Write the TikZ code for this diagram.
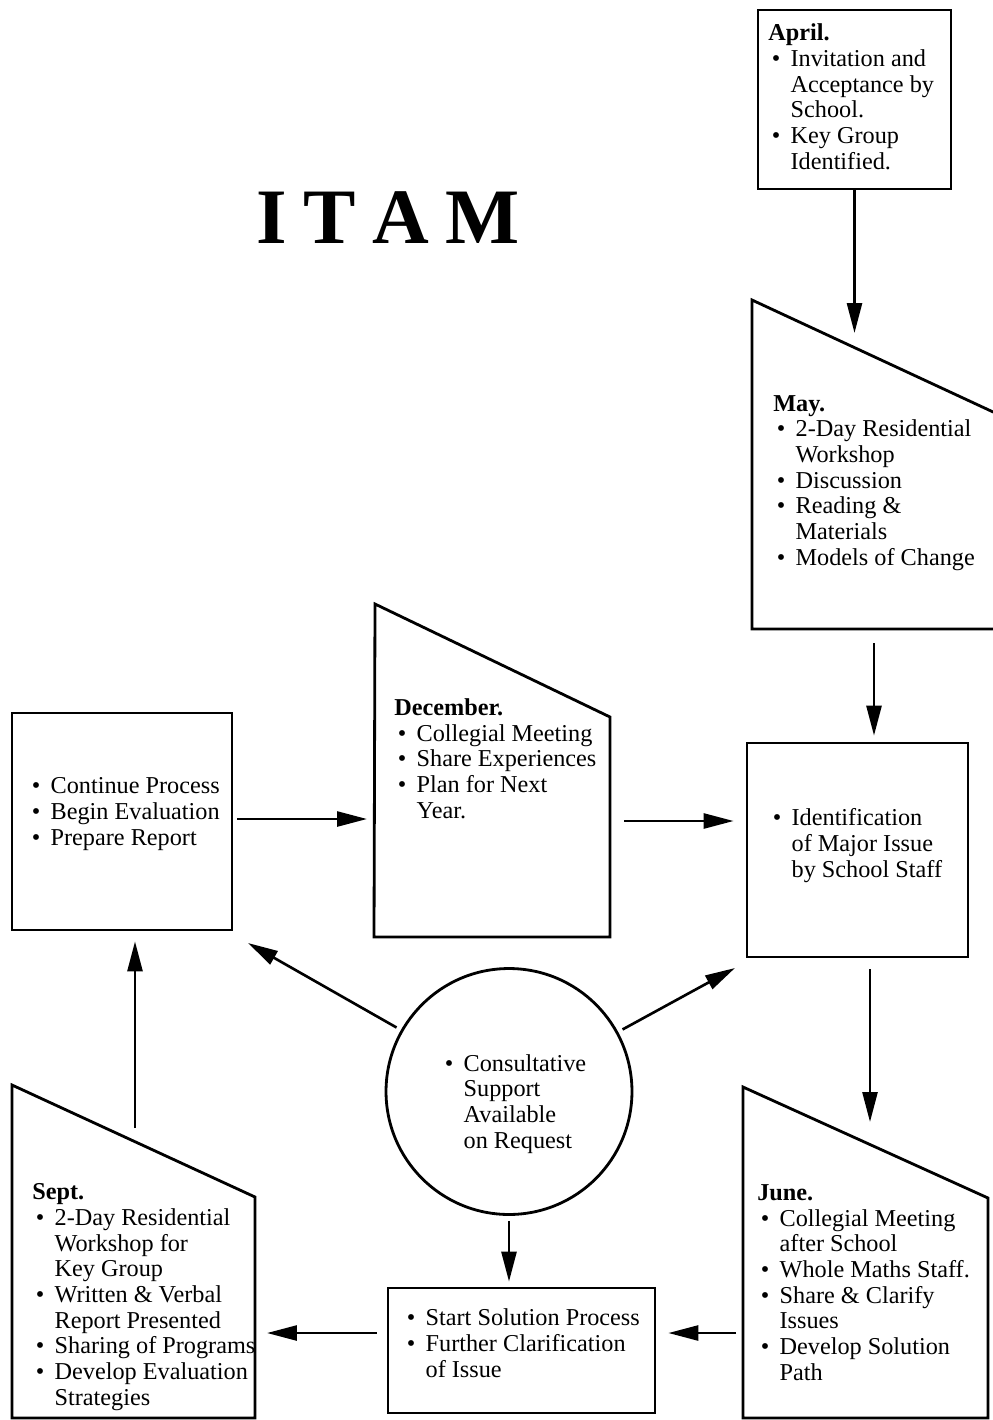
\documentclass[tikz,border=0pt]{standalone}
\usepackage{fontspec}
\setmainfont{Liberation Serif}
\usepackage{tikz}
\usetikzlibrary{arrows.meta}

\newcommand{\bul}{\hspace*{2pt}\makebox[10.7pt][l]{\textbullet}}
\newcommand{\ind}{\hspace*{12.7pt}}

\begin{document}
\begin{tikzpicture}[
    x=0.02cm, y=-0.02cm,
    box/.style={rectangle, draw, line width=1.6pt, inner sep=0pt},
    frame/.style={draw, line width=1.6pt, line join=miter},
    txt/.style={anchor=base west, align=left, inner sep=0pt, font=\fontsize{13.8pt}{14.6pt}\selectfont},
    arrow/.style={-{Triangle[length=0.6cm, width=0.3cm]}, line width=1.5pt}
]
\useasboundingbox (0,0) rectangle (993,1420);

% Title
\node[anchor=base, inner sep=0pt, font=\fontsize{44.7pt}{44.7pt}\selectfont\bfseries] (title) at (388,243) {I\hspace{9.5pt}T\hspace{9.5pt}A\hspace{9.5pt}M};

% Boxes
\node[box, minimum width=3.86cm, minimum height=3.58cm] (april) at (854.5,99.5) {};
\node[box, minimum width=4.4cm, minimum height=4.34cm] (cont) at (122,821.5) {};
\node[box, minimum width=4.42cm, minimum height=4.28cm] (ident) at (857.5,850) {};
\node[box, minimum width=5.34cm, minimum height=2.5cm] (solve) at (521.5,1350.5) {};
\node[circle, draw, line width=1.6pt, inner sep=0pt, minimum size=4.92cm] (consult) at (509,1091.5) {};

% Slanted shapes
\draw[frame] (1005,417.5) -- (752,300) -- (752,629) -- (1005,629);
\draw[frame] (375,604) -- (610,717) -- (610,937) -- (374,937) -- cycle;
\draw[frame] (12,1085) -- (255,1197) -- (255,1418) -- (12,1418) -- cycle;
\draw[frame] (743,1087) -- (988,1198) -- (988,1418) -- (743,1418) -- cycle;

% Texts (placed by the baseline of their last line)
\node[txt] (apriltxt) at (768,169) {\textbf{April.}\\
  \bul Invitation and\\ \ind Acceptance by\\ \ind School.\\
  \bul Key Group\\ \ind Identified.};
\node[txt] (may) at (773,565) {\textbf{May.}\\
  \bul 2-Day Residential\\ \ind Workshop\\ \bul Discussion\\
  \bul Reading \&\\ \ind Materials\\ \bul Models of Change};
\node[txt] (dec) at (394,818) {\textbf{December.}\\
  \bul Collegial Meeting\\ \bul Share Experiences\\
  \bul Plan for Next\\ \ind Year.};
\node[txt] (conttxt) at (28,845) {\bul Continue Process\\
  \bul Begin Evaluation\\ \bul Prepare Report};
\node[txt] (identtxt) at (769,877) {\bul Identification\\
  \ind of Major Issue\\ \ind by School Staff};
\node[txt] (consulttxt) at (441,1148) {\bul Consultative\\
  \ind Support\\ \ind Available\\ \ind on Request};
\node[txt] (solvetxt) at (403,1377) {\bul Start Solution Process\\
  \bul Further Clarification\\ \ind of Issue};
\node[txt] (sept) at (32,1405) {\textbf{Sept.}\\
  \bul 2-Day Residential\\ \ind Workshop for\\ \ind Key Group\\
  \bul Written \& Verbal\\ \ind Report Presented\\
  \bul Sharing of Programs\\ \bul Develop Evaluation\\ \ind Strategies};
\node[txt] (june) at (757,1380) {\textbf{June.}\\
  \bul Collegial Meeting\\ \ind after School\\
  \bul Whole Maths Staff.\\ \bul Share \& Clarify\\ \ind Issues\\
  \bul Develop Solution\\ \ind Path};

% Arrow ends on the slanted shapes
\coordinate (mayin) at (854.5,333);
\coordinate (mayout) at (874,643);
\coordinate (decin) at (367,819);
\coordinate (decout) at (624,821);
\coordinate (junein) at (870,1122);
\coordinate (juneout) at (736,1333);
\coordinate (septin) at (267,1333);
\coordinate (septout) at (135,1128);
\coordinate (contin) at (248,943);
\coordinate (identin) at (735,968);

% Arrows
\draw[arrow] (april.south) -- (mayin);
\draw[arrow, shorten >=0.12cm] (mayout) -- (ident.north -| mayout);
\draw[arrow, shorten <=0.08cm] (cont.east |- decin) -- (decin);
\draw[arrow, shorten >=0.24cm] (decout) -- (ident.west |- decout);
\draw[arrow, shorten <=0.22cm] (ident.south -| junein) -- (junein);
\draw[arrow, shorten >=0.24cm] (juneout) -- (solve.east |- juneout);
\draw[arrow, shorten <=0.2cm] (solve.west |- septin) -- (septin);
\draw[arrow, shorten >=0.2cm] (septout) -- (cont.south -| septout);
\draw[arrow, shorten <=0.1cm] (consult) -- (contin);
\draw[arrow, shorten <=0.1cm] (consult) -- (identin);
\draw[arrow, shorten <=0.1cm, shorten >=0.1cm] (consult.south) -- (consult.south |- solve.north);

\end{tikzpicture}
\end{document}
